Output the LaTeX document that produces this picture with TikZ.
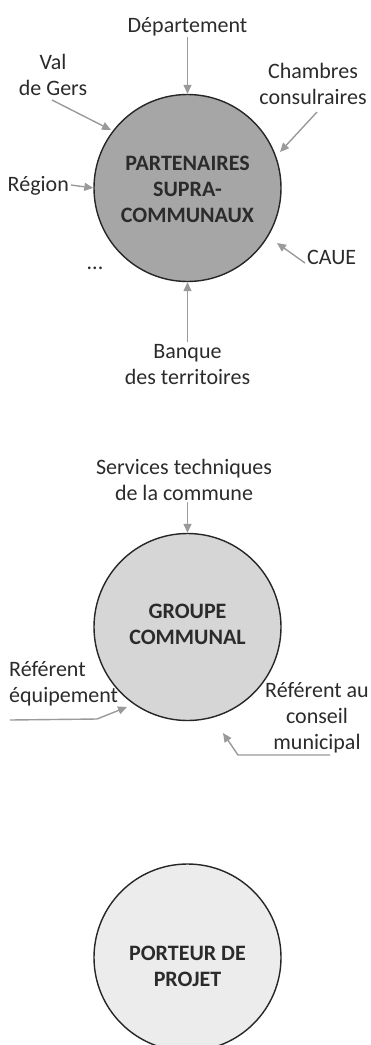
\documentclass[tikz,border=0pt]{standalone}
\usepackage{fontspec}
\setmainfont{Carlito}
\usetikzlibrary{arrows.meta}
\definecolor{txt}{HTML}{2B2B2B}
\definecolor{arrowgray}{HTML}{9A9A9A}
\definecolor{fillA}{HTML}{A6A6A6}
\definecolor{fillB}{HTML}{D6D6D6}
\definecolor{fillC}{HTML}{ECECEC}
\begin{document}
\begin{tikzpicture}[x=1pt,y=-1pt,
 lbl/.style={font=\fontsize{22}{26}\selectfont, text=txt, align=center, inner sep=0pt},
 ttl/.style={font=\fontsize{22}{26}\selectfont\bfseries, text=txt, align=center, inner sep=0pt},
 circ/.style={circle, draw=black!85, line width=1.4pt, minimum size=187pt, inner sep=0pt},
 arr/.style={draw=arrowgray, line width=1.4pt, -{Triangle[length=9pt,width=8pt]}}]
\useasboundingbox (0,0) rectangle (371,1045);

% ---- circle 1
\node[circ, fill=fillA] (c1) at (187.5,188) {};
\node[ttl] (t1) at (187.5,189) {PARTENAIRES\\SUPRA-\\COMMUNAUX};

\node[lbl] (dep) at (187.5,27) {Département};
\node[lbl] (val) at (53,75) {Val\\de Gers};
\node[lbl] (cha) at (313,84) {Chambres\\consulraires};
\node[lbl,anchor=east] (reg) at (69,186) {Région};
\node[lbl,anchor=west] (caue) at (307,257) {CAUE};
\node[lbl] (dots) at (95,268) {...};
\node[lbl] (ban) at (187.5,365) {Banque\\des territoires};

\coordinate (depS) at (187.5,37);
\coordinate (valS) at (52,100);
\coordinate (chaS) at (317,112);
\coordinate (regS) at (71,185);
\coordinate (caueS) at (305,263);
\coordinate (banS) at (187.5,342);

\draw[arr] (depS) -- (c1.north);
\draw[arr] (valS) -- (111,130);
\draw[arr] (chaS) -- (280,152);
\draw[arr] (regS) -- (c1.west);
\draw[arr] (caueS) -- (277,243);
\draw[arr] (banS) -- (c1.south);

% ---- circle 2
\node[circ, fill=fillB] (c2) at (187.5,627) {};
\node[ttl] (t2) at (187.5,624) {GROUPE\\COMMUNAL};

\node[lbl] (ser) at (184,480) {Services techniques\\de la commune};
\node[lbl,anchor=west, align=left] (ref1) at (9,684) {Référent\\équipement};
\node[lbl] (ref2) at (317,718) {Référent au\\conseil\\municipal};

\coordinate (serS) at (187.5,502);
\coordinate (ref1S) at (10,720);
\coordinate (ref1M) at (97,719);
\coordinate (ref2S) at (330,755);
\coordinate (ref2M) at (238,755);

\draw[arr] (serS) -- (c2.north);
\draw[arr] (ref1S) -- (ref1M) -- (127,707);
\draw[arr] (ref2S) -- (ref2M) -- (223,733);

% ---- circle 3
\node[circ, fill=fillC] (c3) at (187.5,957.5) {};
\node[ttl] (t3) at (187.5,966) {PORTEUR DE\\PROJET};
\end{tikzpicture}
\end{document}
